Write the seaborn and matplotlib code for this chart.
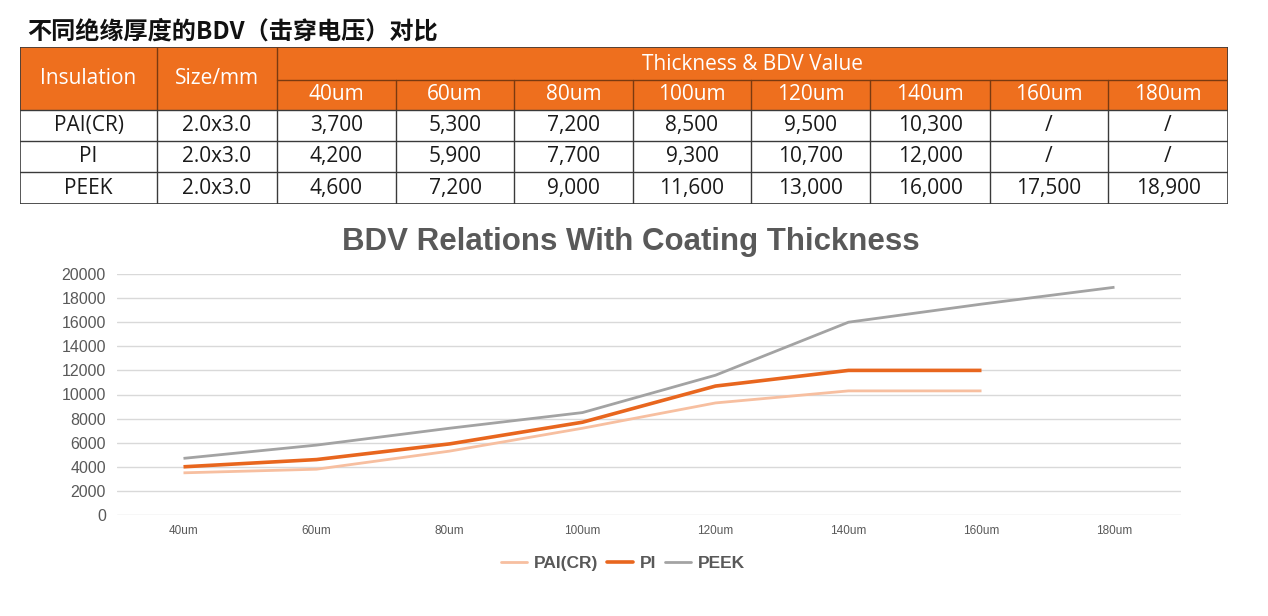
import matplotlib
matplotlib.use("Agg")
import matplotlib.pyplot as plt
import seaborn as sns
import pandas as pd
from matplotlib.patches import Rectangle
from matplotlib.lines import Line2D

# ---------------- data ----------------
title_cn = "不同绝缘厚度的BDV（击穿电压）对比"
chart_title = "BDV Relations With Coating Thickness"
thickness = ["40um", "60um", "80um", "100um", "120um", "140um", "160um", "180um"]
materials = ["PAI(CR)", "PI", "PEEK"]
sizes = ["2.0x3.0", "2.0x3.0", "2.0x3.0"]

# table values (as printed)
table_pai = ["3,700", "5,300", "7,200", "8,500", "9,500", "10,300", "/", "/"]
table_pi = ["4,200", "5,900", "7,700", "9,300", "10,700", "12,000", "/", "/"]
table_peek = ["4,600", "7,200", "9,000", "11,600", "13,000", "16,000", "17,500", "18,900"]

# chart values (as plotted)
chart_pai = [3500, 3800, 5300, 7200, 9300, 10300, 10300]
chart_pi = [4000, 4600, 5900, 7700, 10700, 12000, 12000]
chart_peek = [4700, 5800, 7200, 8500, 11600, 16000, 17500, 18900]

yticks = [0, 2000, 4000, 6000, 8000, 10000, 12000, 14000, 16000, 18000, 20000]

# ---------------- style ----------------
sns.set_theme(style="white")
plt.rcParams['font.family'] = ['Open Sans', 'Noto Sans CJK SC', 'DejaVu Sans']

ORANGE_HDR = "#EE6F1E"
C_PAI = "#F7BFA0"
C_PI = "#E8661E"
C_PEEK = "#A3A3A3"
GRID = "#D9D9D9"
TXT = "#595959"

W, H = 1268, 616
fig = plt.figure(figsize=(W / 100, H / 100), dpi=100)
fig.patch.set_facecolor("white")

# ---------------- title ----------------
fig.text(27 / W, 1 - 32 / H, title_cn, fontsize=17.4, fontweight="bold",
         family=['Noto Sans CJK SC', 'DejaVu Sans'], color="#111111",
         ha="left", va="center")

# ---------------- table ----------------
tx0, ty0, tw, th = 20, 47, 1208, 157
axt = fig.add_axes([tx0 / W, 1 - (ty0 + th) / H, tw / W, th / H])
axt.set_xlim(0, tw)
axt.set_ylim(th, 0)
axt.axis("off")

col_edges = [0, 137, 257, 376, 494, 613, 731, 850, 970, 1088, 1208]
row_edges = [0, 33, 63, 94, 125, 157]
line_dark = "#3a3a3a"
hdr_line = "#7a3a10"

axt.add_patch(Rectangle((0, 0), tw, row_edges[2], facecolor=ORANGE_HDR, edgecolor="none"))
axt.plot([col_edges[1], col_edges[1]], [0, row_edges[2]], color=hdr_line, lw=1)
axt.plot([col_edges[2], col_edges[2]], [0, row_edges[2]], color=hdr_line, lw=1)
axt.plot([col_edges[2], tw], [row_edges[1], row_edges[1]], color=hdr_line, lw=1)
for c in col_edges[3:-1]:
    axt.plot([c, c], [row_edges[1], row_edges[2]], color=hdr_line, lw=1)
for r in row_edges[2:]:
    axt.plot([0, tw], [r, r], color=line_dark, lw=1)
for c in col_edges[1:-1]:
    axt.plot([c, c], [row_edges[2], th], color=line_dark, lw=1)
axt.add_patch(Rectangle((0, 0), tw, th, facecolor="none", edgecolor=line_dark, lw=1.2))

fs_tab = 15
def cx(i):
    return (col_edges[i] + col_edges[i + 1]) / 2
def cy(j):
    return (row_edges[j] + row_edges[j + 1]) / 2

axt.text(cx(0), row_edges[2] / 2, "Insulation", color="white", fontsize=fs_tab, ha="center", va="center")
axt.text(cx(1), row_edges[2] / 2, "Size/mm", color="white", fontsize=fs_tab, ha="center", va="center")
axt.text((col_edges[2] + tw) / 2, cy(0) + 1, "Thickness & BDV Value", color="white", fontsize=fs_tab,
         ha="center", va="center")
for i, t in enumerate(thickness):
    axt.text(cx(i + 2), cy(1), t, color="white", fontsize=fs_tab, ha="center", va="center")

for j, (m, s, vals) in enumerate(zip(materials, sizes, [table_pai, table_pi, table_peek])):
    axt.text(cx(0), cy(j + 2), m, color="#1a1a1a", fontsize=fs_tab, ha="center", va="center")
    axt.text(cx(1), cy(j + 2), s, color="#1a1a1a", fontsize=fs_tab, ha="center", va="center")
    for i, v in enumerate(vals):
        axt.text(cx(i + 2), cy(j + 2), v, color="#1a1a1a", fontsize=fs_tab, ha="center", va="center")

# ---------------- line chart ----------------
fig.text(631 / W, 1 - 242 / H, chart_title, fontsize=22.5, fontweight="bold",
         family=['Liberation Sans', 'DejaVu Sans'], color=TXT, ha="center", va="center")

rows = []
for m, vals in zip(materials, [chart_pai, chart_pi, chart_peek]):
    for i, v in enumerate(vals):
        rows.append({"Thickness": i, "BDV": v, "Material": m})
df = pd.DataFrame(rows)

ax = fig.add_axes([117 / W, 1 - 515 / H, 1064 / W, 241 / H])
sns.lineplot(data=df, x="Thickness", y="BDV", hue="Material", hue_order=materials,
             palette=[C_PAI, C_PI, C_PEEK], ax=ax, legend=False, sort=False)
widths = [2.0, 2.6, 2.0]
for line, lw in zip(ax.get_lines(), widths):
    line.set_linewidth(lw)
    line.set_solid_capstyle("butt")

ax.set_xlim(-0.5, len(thickness) - 0.5)
ax.set_ylim(0, 20000)
ax.set_yticks(yticks)
ax.set_yticklabels([str(v) for v in yticks], fontsize=11.5, color=TXT,
                   family=['Liberation Sans', 'DejaVu Sans'])
ax.set_xticks(range(len(thickness)))
ax.set_xticklabels(thickness, fontsize=8.5, color=TXT, family=['Liberation Sans', 'DejaVu Sans'])
ax.tick_params(axis="y", length=0, pad=8)
ax.tick_params(axis="x", length=0, pad=7)
ax.set_xlabel("")
ax.set_ylabel("")
ax.yaxis.grid(True, color=GRID, lw=1)
ax.set_axisbelow(True)
for s in ax.spines.values():
    s.set_visible(False)

handles = [Line2D([], [], color=c, lw=lw) for c, lw in zip([C_PAI, C_PI, C_PEEK], widths)]
fig.legend(handles, materials, loc="center", bbox_to_anchor=(623 / W, 1 - 563 / H), ncol=3,
           frameon=False, handlelength=1.5, handletextpad=0.4, columnspacing=0.5,
           prop={"family": ['Liberation Sans', 'DejaVu Sans'], "weight": "bold", "size": 12.5},
           labelcolor=TXT)

fig.savefig("out.png", dpi=100, facecolor="white")
